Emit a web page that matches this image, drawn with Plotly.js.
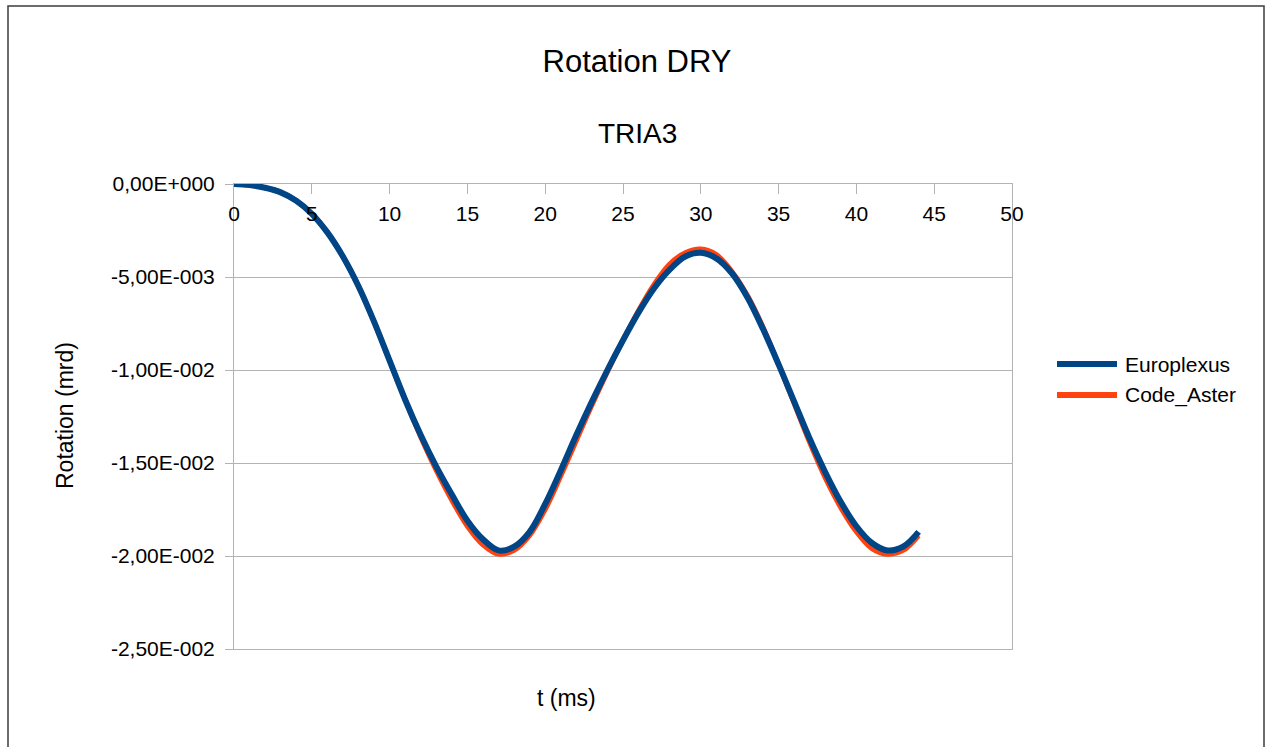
<!DOCTYPE html>
<html>
<head>
<meta charset="utf-8">
<script src="https://cdn.plot.ly/plotly-3.0.1.min.js"></script>
<style>html,body{margin:0;padding:0;background:#fff;}#chart{width:1267px;height:747px;}</style>
</head>
<body>
<div id="chart"></div>
<script>
// time (ms)
const tValues = [0,1,2,3,4,5,6,7,8,9,10,11,12,13,14,15,16,17,18,19,20,21,22,23,24,25,26,27,28,29,30,31,32,33,34,35,36,37,38,39,40,41,42,43,44];
// Europlexus rotation
const europlexus = [0,-0.00006,-0.0002,-0.00045,-0.0009,-0.0016,-0.0026,-0.0039,-0.0055,-0.0074,-0.0095,-0.0116,-0.0135,-0.0152,-0.0167,-0.0181,-0.0191,-0.0197,-0.0195,-0.0187,-0.0172,-0.0154,-0.0135,-0.0117,-0.0100,-0.0084,-0.0069,-0.0056,-0.0046,-0.0039,-0.0037,-0.0040,-0.0048,-0.0061,-0.0078,-0.0097,-0.0117,-0.0137,-0.0155,-0.0171,-0.0184,-0.0193,-0.0197,-0.0195,-0.0187];
// Code_Aster rotation
const codeAster = [0,-0.00006,-0.0002,-0.00045,-0.0009,-0.0016,-0.0026,-0.0039,-0.0055,-0.0074,-0.0095,-0.0116,-0.0136,-0.0154,-0.0170,-0.0184,-0.0194,-0.0199,-0.0197,-0.0189,-0.0175,-0.0157,-0.0138,-0.0119,-0.0101,-0.0084,-0.0068,-0.0054,-0.0043,-0.0037,-0.0035,-0.0038,-0.0047,-0.0060,-0.0077,-0.0097,-0.0118,-0.0139,-0.0158,-0.0174,-0.0187,-0.0196,-0.0199,-0.0197,-0.0189];
const seriesNames = ['Europlexus','Code_Aster'];
const seriesColors = ['#004586','#ff420e'];
const xTicks = [0,5,10,15,20,25,30,35,40,45,50];
const yTicks = [0,-0.005,-0.01,-0.015,-0.02,-0.025];
const yTickLabels = ['0,00E+000','-5,00E-003','-1,00E-002','-1,50E-002','-2,00E-002','-2,50E-002'];

const FONT = 'Liberation Sans, Arial, sans-serif';
const traces = [
  {x: tValues, y: codeAster, name: seriesNames[1], type: 'scatter', mode: 'lines',
   line: {color: seriesColors[1], width: 5, shape: 'spline', smoothing: 1}, showlegend: false},
  {x: tValues, y: europlexus, name: seriesNames[0], type: 'scatter', mode: 'lines',
   line: {color: seriesColors[0], width: 6, shape: 'spline', smoothing: 1}, showlegend: false}
];

// pixel helpers for paper coordinates (plot area 234..1012 x 184..649)
const L = 234, R = 1012, T = 184, B = 649;
const px = v => (v - L) / (R - L);
const py = v => (B - v) / (B - T);

const layout = {
  width: 1267, height: 747,
  margin: {l: L, r: 1267 - R, t: T, b: 747 - B, pad: 0},
  paper_bgcolor: '#ffffff', plot_bgcolor: '#ffffff',
  font: {family: FONT, color: '#000000', size: 21},
  title: {text: 'Rotation DRY', font: {family: FONT, size: 31, color: '#000'},
          x: 637 / 1267, xanchor: 'center', xref: 'container',
          y: 1 - 61 / 747, yanchor: 'middle', yref: 'container'},
  xaxis: {range: [0, 50], side: 'top', tickvals: xTicks, ticktext: xTicks.map(String),
          ticks: 'inside', ticklen: 10, tickcolor: '#b3b3b3', tickwidth: 1,
          ticklabelposition: 'inside', ticklabeloverflow: 'allow', ticklabelstandoff: 14,
          showgrid: false, zeroline: false,
          showline: true, linecolor: '#b3b3b3', linewidth: 1, mirror: true,
          tickfont: {family: FONT, size: 21, color: '#000'}, fixedrange: true},
  yaxis: {range: [-0.025, 0], tickvals: yTicks, ticktext: yTickLabels,
          ticks: 'outside', ticklen: 8, tickcolor: '#b3b3b3', tickwidth: 1,
          ticklabeloverflow: 'allow', ticklabelstandoff: 6,
          showgrid: true, gridcolor: '#b3b3b3', gridwidth: 1, zeroline: false,
          showline: true, linecolor: '#b3b3b3', linewidth: 1, mirror: true,
          tickfont: {family: FONT, size: 21, color: '#000'}, fixedrange: true},
  showlegend: false,
  shapes: [
    {type: 'rect', xref: 'paper', yref: 'paper', x0: px(8), x1: px(1264), y0: py(6), y1: py(780),
     line: {color: '#3c3c3c', width: 1.5}, fillcolor: 'rgba(0,0,0,0)', layer: 'below'},
    {type: 'line', xref: 'paper', yref: 'paper', x0: px(1057), x1: px(1117), y0: py(364), y1: py(364),
     line: {color: seriesColors[0], width: 6}},
    {type: 'line', xref: 'paper', yref: 'paper', x0: px(1057), x1: px(1117), y0: py(395), y1: py(395),
     line: {color: seriesColors[1], width: 6}}
  ],
  annotations: [
    {text: 'TRIA3', xref: 'paper', yref: 'paper', x: px(637), y: py(133), xanchor: 'center', yanchor: 'middle',
     showarrow: false, font: {family: FONT, size: 28, color: '#000'}},
    {text: 't (ms)', xref: 'paper', yref: 'paper', x: px(566), y: py(698), xanchor: 'center', yanchor: 'middle',
     showarrow: false, font: {family: FONT, size: 23, color: '#000'}},
    {text: 'Rotation (mrd)', xref: 'paper', yref: 'paper', x: px(65), y: py(416), xanchor: 'center', yanchor: 'middle',
     textangle: -90, showarrow: false, font: {family: FONT, size: 23, color: '#000'}},
    {text: seriesNames[0], xref: 'paper', yref: 'paper', x: px(1123), y: py(364), xanchor: 'left', yanchor: 'middle',
     showarrow: false, font: {family: FONT, size: 21, color: '#000'}},
    {text: seriesNames[1], xref: 'paper', yref: 'paper', x: px(1123), y: py(395), xanchor: 'left', yanchor: 'middle',
     showarrow: false, font: {family: FONT, size: 21, color: '#000'}}
  ]
};

Plotly.newPlot('chart', traces, layout, {displayModeBar: false, staticPlot: true});
</script>
</body>
</html>
